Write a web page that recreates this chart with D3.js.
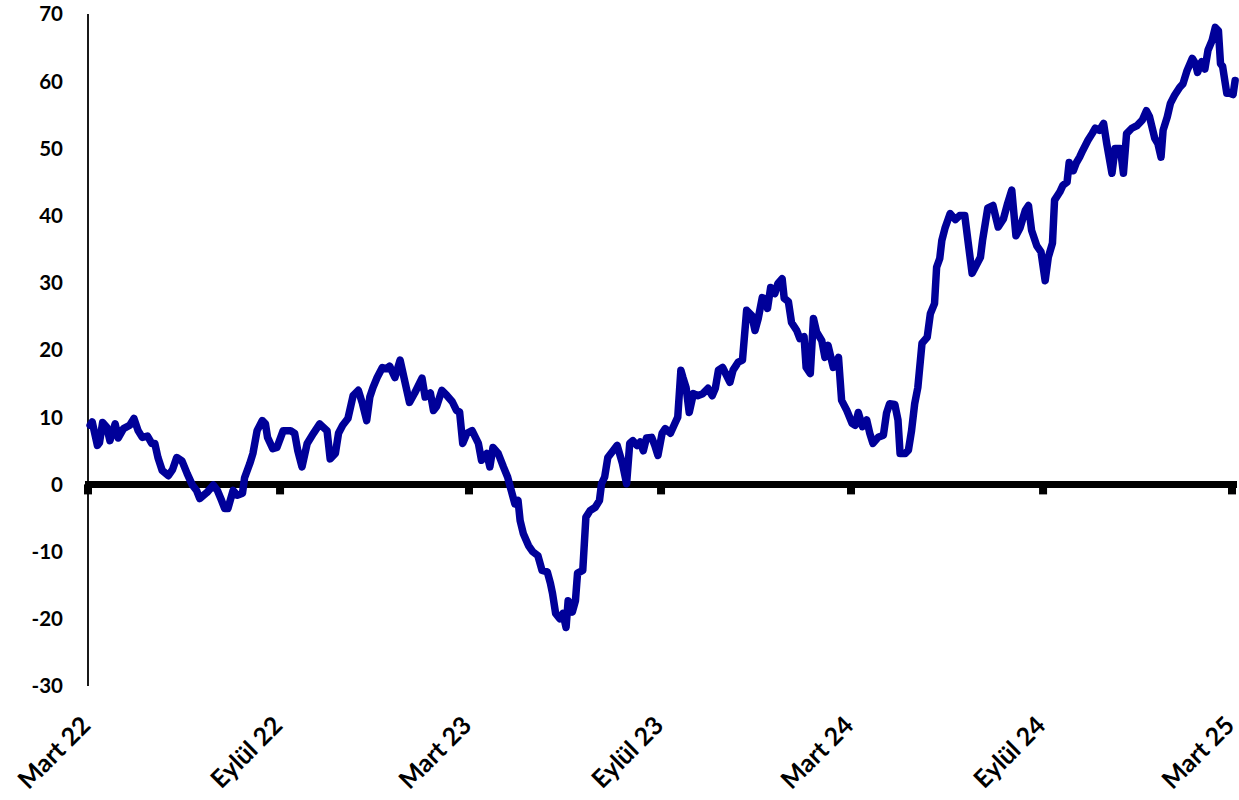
<!DOCTYPE html>
<html>
<head>
<meta charset="utf-8">
<script src="https://cdn.jsdelivr.net/npm/d3@7"></script>
<style>
  html, body { margin: 0; padding: 0; background: #ffffff; }
  svg { display: block; }
  text { font-family: Lato, "Open Sans", sans-serif; font-weight: 700; fill: #000; }
</style>
</head>
<body>
<svg id="chart" width="1239" height="800"></svg>
<script>
// ---- DATA ----
const dates = [
"2022-03-03","2022-03-05","2022-03-10","2022-03-12","2022-03-15","2022-03-19","2022-03-22","2022-03-27","2022-03-30","2022-04-04",
"2022-04-10","2022-04-14","2022-04-18","2022-04-22","2022-04-27","2022-05-01","2022-05-04","2022-05-07","2022-05-11","2022-05-17",
"2022-05-21","2022-05-25","2022-05-30","2022-06-04","2022-06-09","2022-06-13","2022-06-16","2022-06-23","2022-06-29","2022-07-03",
"2022-07-07","2022-07-10","2022-07-13","2022-07-18","2022-07-22","2022-07-27","2022-07-29","2022-08-03","2022-08-06","2022-08-10",
"2022-08-15","2022-08-18","2022-08-20","2022-08-25","2022-08-29","2022-09-04","2022-09-11","2022-09-15","2022-09-18","2022-09-22",
"2022-09-27","2022-10-03","2022-10-09","2022-10-16","2022-10-19","2022-10-24","2022-10-27","2022-10-31","2022-11-05","2022-11-10",
"2022-11-15","2022-11-19","2022-11-23","2022-11-26","2022-11-29","2022-12-03","2022-12-08","2022-12-12","2022-12-15","2022-12-20",
"2022-12-25","2022-12-30","2023-01-03","2023-01-08","2023-01-15","2023-01-18","2023-01-23","2023-01-26","2023-01-29","2023-02-03",
"2023-02-08","2023-02-13","2023-02-17","2023-02-20","2023-02-23","2023-02-27","2023-03-04","2023-03-10","2023-03-13","2023-03-18",
"2023-03-21","2023-03-24","2023-03-29","2023-04-03","2023-04-07","2023-04-11","2023-04-14","2023-04-17","2023-04-19","2023-04-22",
"2023-04-27","2023-05-01","2023-05-06","2023-05-10","2023-05-15","2023-05-18","2023-05-20","2023-05-23","2023-05-27","2023-05-30",
"2023-06-02","2023-06-04","2023-06-08","2023-06-11","2023-06-13","2023-06-18","2023-06-21","2023-06-25","2023-06-30","2023-07-04",
"2023-07-06","2023-07-09","2023-07-12","2023-07-17","2023-07-21","2023-07-26","2023-07-30","2023-08-02","2023-08-05","2023-08-09",
"2023-08-12","2023-08-15","2023-08-18","2023-08-23","2023-08-26","2023-08-29","2023-09-02","2023-09-05","2023-09-10","2023-09-14",
"2023-09-17","2023-09-20","2023-09-22","2023-09-25","2023-09-28","2023-10-02","2023-10-06","2023-10-11","2023-10-16","2023-10-20",
"2023-10-23","2023-10-26","2023-10-30","2023-11-06","2023-11-09","2023-11-14","2023-11-18","2023-11-22","2023-11-27","2023-11-30",
"2023-12-03","2023-12-07","2023-12-10","2023-12-12","2023-12-15","2023-12-19","2023-12-22","2023-12-26","2023-12-28","2024-01-01",
"2024-01-04","2024-01-09","2024-01-12","2024-01-16","2024-01-18","2024-01-22","2024-01-25","2024-01-28","2024-02-02","2024-02-05",
"2024-02-08","2024-02-13","2024-02-18","2024-02-21","2024-02-26","2024-03-02","2024-03-05","2024-03-08","2024-03-12","2024-03-16",
"2024-03-19","2024-03-22","2024-03-27","2024-04-01","2024-04-04","2024-04-07","2024-04-12","2024-04-15","2024-04-17","2024-04-22",
"2024-04-25","2024-04-28","2024-05-01","2024-05-04","2024-05-08","2024-05-13","2024-05-16","2024-05-20","2024-05-22","2024-05-25",
"2024-05-27","2024-05-30","2024-06-04","2024-06-09","2024-06-13","2024-06-18","2024-06-21","2024-06-25","2024-06-28","2024-07-03",
"2024-07-05","2024-07-10","2024-07-15","2024-07-20","2024-07-25","2024-07-29","2024-08-02","2024-08-06","2024-08-10","2024-08-15",
"2024-08-18","2024-08-21","2024-08-26","2024-08-30","2024-09-03","2024-09-06","2024-09-10","2024-09-12","2024-09-17","2024-09-20",
"2024-09-24","2024-09-26","2024-09-30","2024-10-03","2024-10-06","2024-10-09","2024-10-14","2024-10-18","2024-10-21","2024-10-25",
"2024-10-29","2024-11-01","2024-11-06","2024-11-09","2024-11-14","2024-11-17","2024-11-20","2024-11-25","2024-11-30","2024-12-05",
"2024-12-09","2024-12-12","2024-12-17","2024-12-20","2024-12-23","2024-12-25","2024-12-29","2025-01-01","2025-01-05","2025-01-10",
"2025-01-13","2025-01-17","2025-01-22","2025-01-25","2025-01-27","2025-01-31","2025-02-03","2025-02-06","2025-02-10","2025-02-13",
"2025-02-16","2025-02-18","2025-02-20","2025-02-24","2025-02-27","2025-03-02","2025-03-04"
];
const values = [
8.8,9.3,5.8,6.2,9.2,8.5,6.5,9.0,6.9,8.3,
8.8,9.8,8.0,7.0,7.2,6.1,6.1,4.0,2.1,1.3,
2.2,4.0,3.5,1.6,-0.1,-0.9,-2.1,-1.2,-0.1,-0.9,
-2.4,-3.6,-3.6,-0.9,-1.6,-1.3,1.0,3.1,4.6,8.0,
9.5,9.0,7.0,5.3,5.5,8.0,8.0,7.6,5.0,2.6,
6.1,7.6,9.0,8.0,3.8,4.6,7.6,8.8,9.8,13.2,
14.0,12.0,9.5,13.0,14.4,15.9,17.4,17.2,17.6,15.9,
18.5,15.0,12.2,13.6,15.8,13.0,13.6,11.0,11.6,14.0,
13.2,12.3,11.0,10.8,6.1,7.6,8.0,6.1,3.6,4.6,
2.6,5.5,4.6,2.6,1.1,-1.2,-2.9,-2.4,-5.4,-7.3,
-9.1,-10.0,-10.6,-12.8,-13.0,-14.7,-16.2,-19.2,-20.0,-19.2,
-21.3,-17.3,-19.0,-17.3,-13.2,-12.8,-4.9,-3.9,-3.4,-2.4,
0.1,1.1,4.0,5.0,5.8,3.1,0.1,6.1,6.5,5.8,
6.3,5.0,6.9,7.0,5.8,4.3,7.6,8.3,7.6,9.0,
10.0,17.0,15.9,14.4,10.7,13.5,13.2,13.5,14.3,13.2,
14.3,17.0,17.4,15.2,17.0,18.2,18.5,25.9,25.1,22.9,
24.6,27.8,27.6,26.2,29.3,28.4,29.9,30.6,27.7,27.2,
24.1,22.9,21.7,22.0,17.4,16.5,24.7,22.7,21.4,18.9,
20.7,17.4,18.9,12.5,11.0,9.1,8.8,10.7,8.6,9.6,
7.6,6.1,7.0,7.3,10.6,12.0,11.9,9.6,4.6,4.6,
5.1,8.0,12.0,14.4,21.0,21.9,25.4,26.9,32.3,33.6,
36.3,38.1,40.3,39.4,40.0,40.0,36.3,31.4,32.3,33.8,
36.3,41.1,41.5,38.3,39.5,41.8,43.8,37.0,38.2,40.8,
41.5,37.8,35.5,34.6,30.3,33.8,35.9,42.3,43.5,44.5,
45.0,47.9,46.7,47.9,48.7,49.7,51.2,52.2,53.0,52.7,
53.7,50.7,46.3,50.0,50.0,46.3,52.2,53.0,53.4,54.2,
55.6,54.7,51.5,50.7,48.7,52.7,54.7,56.7,57.9,59.1,
59.6,61.6,63.4,62.6,61.3,62.9,61.8,64.6,66.1,68.0,
67.5,62.6,62.2,58.2,58.2,58.0,60.1
];
const xTickDates = ["2022-03-01","2022-09-01","2023-03-01","2023-09-01","2024-03-01","2024-09-01","2025-03-01"];
const xTickLabels = ["Mart 22","Eylül 22","Mart 23","Eylül 23","Mart 24","Eylül 24","Mart 25"];
const yTicks = [-30,-20,-10,0,10,20,30,40,50,60,70];

// ---- CHART ----
(function () {
const parse = d3.utcParse("%Y-%m-%d");
const series = dates.map((d, i) => ({ date: parse(d), value: values[i] }));

const svg = d3.select("#chart");
const mLeft = 88, mRight = 1232, mTop = 14, mBottom = 686;

const x = d3.scaleUtc()
  .domain([parse(xTickDates[0]), parse(xTickDates[xTickDates.length - 1])])
  .range([mLeft, mRight]);
const y = d3.scaleLinear().domain([-30, 70]).range([mBottom, mTop]);

// y axis line
svg.append("line")
  .attr("x1", mLeft).attr("x2", mLeft)
  .attr("y1", y(70)).attr("y2", y(-30))
  .attr("stroke", "#000").attr("stroke-width", 1.8);

// y labels
svg.append("g").selectAll("text").data(yTicks).join("text")
  .attr("x", mLeft - 25)
  .attr("y", d => y(d))
  .attr("dy", "0.36em")
  .attr("text-anchor", "end")
  .attr("font-size", 20.5)
  .text(d => d);

// zero line
svg.append("line")
  .attr("x1", mLeft - 3).attr("x2", 1237)
  .attr("y1", y(0)).attr("y2", y(0))
  .attr("stroke", "#000").attr("stroke-width", 7);

// x ticks
svg.append("g").selectAll("rect").data(xTickDates).join("rect")
  .attr("x", d => x(parse(d)) - 4)
  .attr("y", y(0))
  .attr("width", 8)
  .attr("height", 10)
  .attr("fill", "#000");

// x labels
svg.append("g").selectAll("text").data(xTickDates).join("text")
  .attr("text-anchor", "end")
  .attr("font-size", 25)
  .attr("transform", d => `translate(${Math.min(x(parse(d)) + 4, 1236)},${727}) rotate(-45)`)
  .text((d, i) => xTickLabels[i]);

// data line
const line = d3.line().x(d => x(d.date)).y(d => y(d.value));
svg.append("path")
  .datum(series)
  .attr("d", line)
  .attr("fill", "none")
  .attr("stroke", "#000099")
  .attr("stroke-width", 7.5)
  .attr("stroke-linejoin", "round")
  .attr("stroke-linecap", "round");
})();
</script>
</body>
</html>
